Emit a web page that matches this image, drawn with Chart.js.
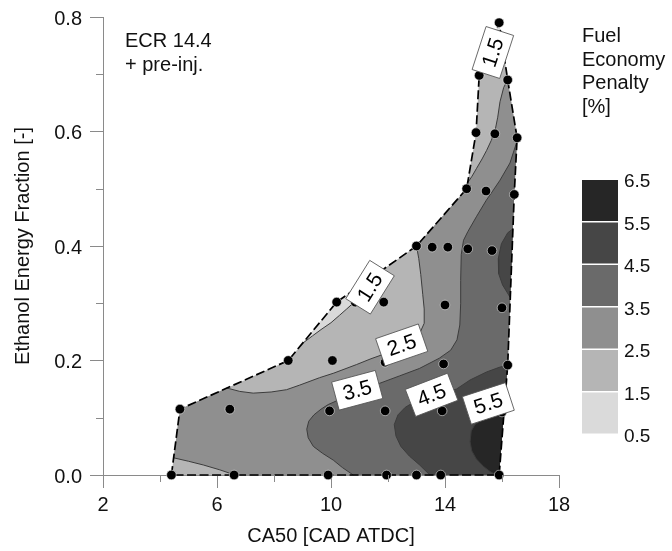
<!DOCTYPE html>
<html>
<head>
<meta charset="utf-8">
<script src="https://cdn.jsdelivr.net/npm/chart.js@4.4.0/dist/chart.umd.min.js"></script>
<style>
  html, body { margin: 0; padding: 0; background: #fff; }
  #wrap { width: 672px; height: 551px; }
</style>
</head>
<body>
<div id="wrap"><canvas id="penaltyMap"></canvas></div>
<script>
// axes
const xTicks = [2, 6, 10, 14, 18];
const xMinorTicks = [4, 8, 12, 16];
const yTicks = [0.0, 0.2, 0.4, 0.6, 0.8];
const yMinorTicks = [0.1, 0.3, 0.5, 0.7];
const levels = [0.5, 1.5, 2.5, 3.5, 4.5, 5.5, 6.5];

// measured operating points [CA50, ethanol fraction]
const samples = [
  [4.4, 0], [6.6, 0], [9.9, 0], [11.95, 0], [13.0, 0], [13.85, 0], [15.9, 0],
  [4.7, 0.115], [6.45, 0.115], [9.95, 0.112], [11.9, 0.112], [13.9, 0.112], [16.0, 0.11],
  [8.5, 0.2], [10.05, 0.2], [11.9, 0.197], [13.95, 0.194], [16.2, 0.192],
  [10.2, 0.302], [10.85, 0.302], [11.85, 0.302], [14.0, 0.297], [16.0, 0.292],
  [13.0, 0.40], [13.55, 0.398], [14.1, 0.398], [14.8, 0.395], [15.65, 0.392],
  [14.76, 0.5], [15.44, 0.496], [16.43, 0.49],
  [15.09, 0.598], [15.75, 0.596], [16.53, 0.589],
  [15.2, 0.698], [16.2, 0.69],
  [15.9, 0.79]
];

// outline of the measured region
const hull = [
  [4.4, 0], [4.7, 0.115], [8.5, 0.2], [10.2, 0.302], [13.0, 0.40], [14.76, 0.5],
  [15.09, 0.598], [15.2, 0.698], [15.9, 0.79], [16.2, 0.69], [16.53, 0.589],
  [16.43, 0.49], [16.2, 0.192], [15.9, 0]
];

// iso-lines
const c15a = [[9.03, 0.231], [9.35, 0.243], [9.65, 0.254], [10.0, 0.266], [10.3, 0.279],
  [10.55, 0.29], [10.75, 0.299], [10.9, 0.314], [10.98, 0.329]];
const c15b = [[15.56, 0.745], [15.8, 0.75], [16.05, 0.74]];
const c25a = [[6.34, 0.152], [6.8, 0.146], [7.27, 0.143], [7.9, 0.145], [8.44, 0.149], [8.9, 0.157],
  [9.6, 0.17], [10.1, 0.178], [10.9, 0.193], [11.4, 0.203], [11.85, 0.211], [12.4, 0.222],
  [12.8, 0.232], [13.1, 0.246], [13.27, 0.265], [13.27, 0.29], [13.22, 0.315], [13.15, 0.35],
  [13.08, 0.378], [13.0, 0.40]];
const c25b = [[14.79, 0.51], [14.95, 0.522], [15.1, 0.535], [15.3, 0.552], [15.46, 0.567],
  [15.62, 0.584], [15.75, 0.6], [15.85, 0.625], [15.93, 0.652], [16.06, 0.677], [16.2, 0.69]];
const c25c = [[4.48, 0.03], [5.0, 0.024], [5.52, 0.0175], [6.1, 0.009], [6.63, 0]];
const c35 = [[10.78, 0], [10.4, 0.013], [10.08, 0.026], [9.7, 0.038], [9.38, 0.05], [9.2, 0.065],
  [9.15, 0.08], [9.22, 0.094], [9.4, 0.105], [9.65, 0.115], [9.9, 0.123], [10.4, 0.134],
  [10.95, 0.145], [11.7, 0.16], [12.4, 0.173], [13.1, 0.186], [13.8, 0.204], [14.2, 0.218],
  [14.42, 0.236], [14.52, 0.262], [14.55, 0.3], [14.55, 0.34], [14.57, 0.385], [14.65, 0.41],
  [14.8, 0.425], [15.1, 0.451], [15.45, 0.48], [15.7, 0.498], [15.93, 0.515], [16.28, 0.545],
  [16.52, 0.582]];
const c45a = [[13.47, 0], [13.1, 0.018], [12.75, 0.033], [12.45, 0.05], [12.28, 0.068],
  [12.22, 0.088], [12.35, 0.105], [12.6, 0.118], [12.9, 0.127], [13.2, 0.134], [13.55, 0.14],
  [14.0, 0.145], [14.4, 0.15], [14.88, 0.166], [15.46, 0.18], [15.9, 0.188], [16.2, 0.192]];
const c45b = [[16.385, 0.43], [16.2, 0.423], [15.98, 0.404], [15.87, 0.378], [15.88, 0.352],
  [16.02, 0.332], [16.29, 0.31]];
const c55 = [[16.07, 0.108], [15.6, 0.102], [15.3, 0.096], [15.05, 0.088], [14.92, 0.077],
  [14.88, 0.058], [14.94, 0.042], [15.1, 0.028], [15.35, 0.015], [15.58, 0.006], [15.8, 0]];

// inline contour labels
const labelText = ['1.5', '1.5', '2.5', '3.5', '4.5', '5.5'];
const labelX = [15.68, 11.37, 12.48, 10.92, 13.53, 15.52];
const labelY = [0.738, 0.328, 0.227, 0.148, 0.14, 0.125];
const labelAngle = [-72, -58, -19, -15, -21, -18];

const legendTitle = ['Fuel', 'Economy', 'Penalty', '[%]'];
const noteLines = ['ECR 14.4', '+ pre-inj.'];

// ---------------------------------------------------------------
const bandColors = ['#dadada', '#b5b5b5', '#8f8f8f', '#6a6a6a', '#464646', '#262626'];
const FONT = 'Liberation Sans, Arial, Helvetica, sans-serif';
const AXIS_GREY = '#8a8a8a';

const rev = a => a.slice().reverse();
const toXY = a => a.map(([x, y]) => ({ x, y }));

// regions above each level, closed along the outline
const regions = [
  { band: 1, pts: hull },
  { band: 0, pts: [...c15a, hull[3]] },
  { band: 0, pts: [...c15b, hull[8]] },
  { band: 2, pts: [...c25c, hull[13], hull[12], hull[11], hull[10], ...rev(c25b), hull[5], ...rev(c25a), hull[1]] },
  { band: 3, pts: [...c35, hull[11], hull[12], hull[13]] },
  { band: 4, pts: [...c45a, hull[13]] },
  { band: 4, pts: c45b },
  { band: 5, pts: [...c55, hull[13]] }
];

const regionSets = regions.map(r => ({
  data: toXY(r.pts), regionFill: bandColors[r.band],
  showLine: false, pointRadius: 0, order: 10
}));

const lineSets = [c15a, c15b, c25a, c25b, c25c, c35, c45a, c45b, c55].map(c => ({
  data: toXY(c), showLine: true, borderColor: '#3c3c3c', borderWidth: 1,
  pointRadius: 0, tension: 0, clip: false, order: 3
}));

const hullSet = {
  data: toXY([...hull, hull[0]]), showLine: true, borderColor: '#000', borderWidth: 1.7,
  borderDash: [9, 3.5], pointRadius: 0, tension: 0, clip: false, order: 2
};

const pointSet = {
  data: toXY(samples), showLine: false, pointRadius: 4.8, pointStyle: 'circle',
  backgroundColor: '#000', borderColor: 'rgba(235,235,235,0.85)', borderWidth: 0.7,
  clip: false, order: 1
};

// fill the level regions underneath everything else
const regionPlugin = {
  id: 'regions',
  beforeDatasetsDraw(chart) {
    const ctx = chart.ctx;
    chart.data.datasets.forEach((ds, i) => {
      if (!ds.regionFill) return;
      const pts = chart.getDatasetMeta(i).data;
      ctx.save();
      ctx.beginPath();
      pts.forEach((p, k) => (k ? ctx.lineTo(p.x, p.y) : ctx.moveTo(p.x, p.y)));
      ctx.closePath();
      ctx.fillStyle = ds.regionFill;
      ctx.fill();
      ctx.restore();
    });
  }
};

// minor ticks, contour labels, notes and colour bar
const decorPlugin = {
  id: 'decor',
  afterDatasetsDraw(chart) {
    const { ctx, scales: { x, y, cb } } = chart;
    const area = chart.chartArea;

    ctx.save();
    ctx.strokeStyle = AXIS_GREY;
    ctx.lineWidth = 1;
    ctx.beginPath();
    xMinorTicks.forEach(v => {
      const px = Math.round(x.getPixelForValue(v)) + 0.5;
      ctx.moveTo(px, area.bottom);
      ctx.lineTo(px, area.bottom + 7);
    });
    yMinorTicks.forEach(v => {
      const py = Math.round(y.getPixelForValue(v)) + 0.5;
      ctx.moveTo(area.left - 7, py);
      ctx.lineTo(area.left, py);
    });
    ctx.stroke();
    ctx.restore();

    // labels sitting on the iso-lines
    ctx.save();
    ctx.font = '21px ' + FONT;
    labelText.forEach((t, i) => {
      const px = x.getPixelForValue(labelX[i]);
      const py = y.getPixelForValue(labelY[i]);
      const w = ctx.measureText(t).width + 16;
      const h = 29;
      ctx.save();
      ctx.translate(px, py);
      ctx.rotate(labelAngle[i] * Math.PI / 180);
      ctx.fillStyle = '#fff';
      ctx.fillRect(-w / 2, -h / 2, w, h);
      ctx.strokeStyle = '#555';
      ctx.lineWidth = 0.8;
      ctx.strokeRect(-w / 2, -h / 2, w, h);
      ctx.fillStyle = '#000';
      ctx.textAlign = 'center';
      ctx.textBaseline = 'middle';
      ctx.fillText(t, 0, 1);
      ctx.restore();
    });
    ctx.restore();

    // notes in the upper left corner
    ctx.save();
    ctx.font = '20px ' + FONT;
    ctx.fillStyle = '#111';
    ctx.textBaseline = 'alphabetic';
    noteLines.forEach((t, i) => ctx.fillText(t, 125, 47 + i * 23.5));
    legendTitle.forEach((t, i) => ctx.fillText(t, 582, 42 + i * 23.6));
    ctx.restore();

    // colour bar, bands placed by the colour scale
    ctx.save();
    for (let i = 0; i < bandColors.length; i++) {
      const top = cb.getPixelForValue(levels[i + 1]);
      const bot = cb.getPixelForValue(levels[i]);
      ctx.fillStyle = bandColors[i];
      ctx.fillRect(582, top + 1, 36, bot - top - 1.5);
    }
    ctx.restore();
  }
};

// colour scale shares the plot height; pick its range so the bar spans 179..434 px
const plotTop = 17, plotBottom = 475, barTop = 179, barBottom = 434;
const cbSpan = (levels[6] - levels[0]) * (plotBottom - plotTop) / (barBottom - barTop);
const cbMin = levels[0] - (plotBottom - barBottom) / (plotBottom - plotTop) * cbSpan;
const cbMax = cbMin + cbSpan;

// keep label overflow from pushing the plot area around
const fixVertical = w => s => { s.width = w; s.paddingTop = 0; s.paddingBottom = 0; };

Chart.defaults.font.family = FONT;
Chart.defaults.color = '#111';

new Chart(document.getElementById('penaltyMap'), {
  type: 'scatter',
  data: { datasets: [...regionSets, ...lineSets, hullSet, pointSet] },
  options: {
    responsive: true,
    maintainAspectRatio: false,
    animation: false,
    events: [],
    layout: { autoPadding: false, padding: { top: plotTop, left: 0, right: 0, bottom: 0 } },
    plugins: { legend: { display: false }, tooltip: { enabled: false } },
    scales: {
      x: {
        type: 'linear', min: 2, max: 18,
        afterBuildTicks: s => { s.ticks = xTicks.map(v => ({ value: v })); },
        afterFit: s => { s.height = 76; s.paddingLeft = 0; s.paddingRight = 0; },
        border: { display: true, color: AXIS_GREY, width: 1 },
        grid: { display: true, drawOnChartArea: false, drawTicks: true, tickLength: 13, color: AXIS_GREY },
        ticks: { font: { size: 20 }, padding: 5, maxRotation: 0, autoSkip: false, callback: v => String(v) },
        title: { display: true, text: 'CA50 [CAD ATDC]', font: { size: 20 }, padding: { top: 0, bottom: 3 } }
      },
      y: {
        type: 'linear', min: 0, max: 0.8,
        afterBuildTicks: s => { s.ticks = yTicks.map(v => ({ value: v })); },
        afterFit: fixVertical(103),
        border: { display: true, color: AXIS_GREY, width: 1 },
        grid: { display: true, drawOnChartArea: false, drawTicks: true, tickLength: 13, color: AXIS_GREY },
        ticks: { font: { size: 20 }, padding: 8, labelOffset: 2, autoSkip: false, callback: v => v.toFixed(1) },
        title: { display: true, text: 'Ethanol Energy Fraction [-]', font: { size: 20 }, padding: { top: 11, bottom: 0 } }
      },
      cb: {
        type: 'linear', position: 'right', min: cbMin, max: cbMax,
        afterBuildTicks: s => { s.ticks = levels.map(v => ({ value: v })); },
        afterFit: fixVertical(113),
        border: { display: false },
        grid: { display: false, drawTicks: false },
        ticks: { font: { size: 19 }, padding: 65, labelOffset: 3, autoSkip: false, callback: v => v.toFixed(1) }
      }
    }
  },
  plugins: [regionPlugin, decorPlugin]
});
</script>
</body>
</html>
